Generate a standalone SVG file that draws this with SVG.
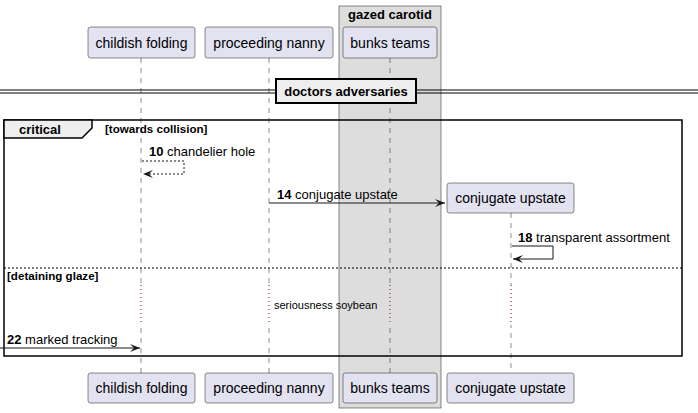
<svg xmlns="http://www.w3.org/2000/svg" width="698" height="413" viewBox="0 0 698 413">
<defs>
<marker id="ah" markerUnits="userSpaceOnUse" markerWidth="12" markerHeight="10" refX="10" refY="4" orient="auto">
<path d="M0,0 L10,4 L0,8 L4,4 Z" fill="#181818"/>
</marker>
<style>
text{font-family:"Liberation Sans",Arial,sans-serif;fill:#000}
.pbox{fill:#E2E2F0;stroke:#181818;stroke-width:0.5}
.pname{font-size:14px;text-anchor:middle}
.life{stroke:#181818;stroke-width:0.5;stroke-dasharray:5,5;fill:none}
.delay{stroke:#A80036;stroke-width:1;stroke-dasharray:1,3;fill:none}
.msg{stroke:#181818;stroke-width:1;fill:none}
.dmsg{stroke:#181818;stroke-width:1;fill:none;stroke-dasharray:2,2}
.lbl{font-size:13px}
.num{font-weight:bold}
.b{font-weight:bold}
</style>
</defs>
<g id="box-gazed-carotid">
<rect x="339" y="6" width="102" height="402" fill="#DDDDDD" stroke="#181818" stroke-width="0.5"/>
<text x="390" y="19" class="b" font-size="13" text-anchor="middle">gazed carotid</text>
</g>
<g id="lifelines">
<line class="life" x1="141" y1="58" x2="141" y2="373"/>
<line class="life" x1="269" y1="58" x2="269" y2="373"/>
<line class="life" x1="390" y1="58" x2="390" y2="373"/>
<line class="life" x1="511" y1="213" x2="511" y2="373"/>
<rect x="140" y="285" width="2" height="40" fill="#fff"/>
<rect x="268" y="285" width="2" height="40" fill="#fff"/>
<rect x="389" y="285" width="2" height="40" fill="#DDDDDD"/>
<rect x="510" y="285" width="2" height="40" fill="#fff"/>
<line class="delay" x1="141" y1="285" x2="141" y2="325"/>
<line class="delay" x1="269" y1="285" x2="269" y2="325"/>
<line class="delay" x1="390" y1="285" x2="390" y2="325"/>
<line class="delay" x1="511" y1="285" x2="511" y2="325"/>
</g>
<g id="p-childish-folding">
<rect class="pbox" x="88" y="27" width="107" height="31" rx="2.5"/>
<text class="pname" x="141.5" y="47.5">childish folding</text>
<rect class="pbox" x="88" y="373" width="107" height="30" rx="2.5"/>
<text class="pname" x="141.5" y="393">childish folding</text>
</g>
<g id="p-proceeding-nanny">
<rect class="pbox" x="205" y="27" width="128" height="31" rx="2.5"/>
<text class="pname" x="269" y="47.5">proceeding nanny</text>
<rect class="pbox" x="205" y="373" width="128" height="30" rx="2.5"/>
<text class="pname" x="269" y="393">proceeding nanny</text>
</g>
<g id="p-bunks-teams">
<rect class="pbox" x="343" y="27" width="94" height="31" rx="2.5"/>
<text class="pname" x="390" y="47.5">bunks teams</text>
<rect class="pbox" x="343" y="373" width="94" height="30" rx="2.5"/>
<text class="pname" x="390" y="393">bunks teams</text>
</g>
<g id="p-conjugate-upstate">
<rect class="pbox" x="447" y="183" width="127" height="30" rx="2.5"/>
<text class="pname" x="510.5" y="203">conjugate upstate</text>
<rect class="pbox" x="447" y="373" width="127" height="30" rx="2.5"/>
<text class="pname" x="510.5" y="393">conjugate upstate</text>
</g>
<g id="divider-doctors-adversaries">
<line x1="0" y1="90" x2="698" y2="90" stroke="#000" stroke-width="1.2"/>
<line x1="0" y1="93" x2="698" y2="93" stroke="#000" stroke-width="1.2"/>
<rect x="276" y="79" width="140" height="24" fill="#EEEEEE" stroke="#000" stroke-width="2"/>
<text x="346" y="96" class="b" font-size="13" text-anchor="middle">doctors adversaries</text>
</g>
<g id="frame-critical">
<rect x="4" y="120" width="678" height="236" fill="none" stroke="#000" stroke-width="1.5"/>
<path d="M4,120 L92,120 L92,128 L82,138 L4,138 Z" fill="#EEEEEE" stroke="#000" stroke-width="1.5"/>
<text x="19" y="134" class="b" font-size="13">critical</text>
<text x="105" y="133" class="b" font-size="11.6">[towards collision]</text>
<line x1="4" y1="268" x2="682" y2="268" stroke="#000" stroke-width="1" stroke-dasharray="2,2"/>
<text x="7" y="280" class="b" font-size="11.6">[detaining glaze]</text>
</g>
<g id="connectors">
<g id="m10">
<path class="dmsg" d="M142,161 L184,161 L184,174 L143,174" marker-end="url(#ah)"/>
<text class="lbl" x="149" y="156"><tspan class="num">10</tspan> chandelier hole</text>
</g>
<g id="m14">
<line class="msg" x1="269" y1="203" x2="445" y2="203" marker-end="url(#ah)"/>
<text class="lbl" x="277" y="199"><tspan class="num">14</tspan> conjugate upstate</text>
</g>
<g id="m18">
<path class="msg" d="M512,246 L553,246 L553,259 L513,259" marker-end="url(#ah)"/>
<text class="lbl" x="518" y="242"><tspan class="num">18</tspan> transparent assortment</text>
</g>
<g id="delay">
<text x="274" y="309" font-size="11">seriousness soybean</text>
</g>
<g id="m22">
<line class="msg" x1="0" y1="348" x2="140" y2="348" marker-end="url(#ah)"/>
<text class="lbl" x="7" y="344"><tspan class="num">22</tspan> marked tracking</text>
</g>
</g>
</svg>
